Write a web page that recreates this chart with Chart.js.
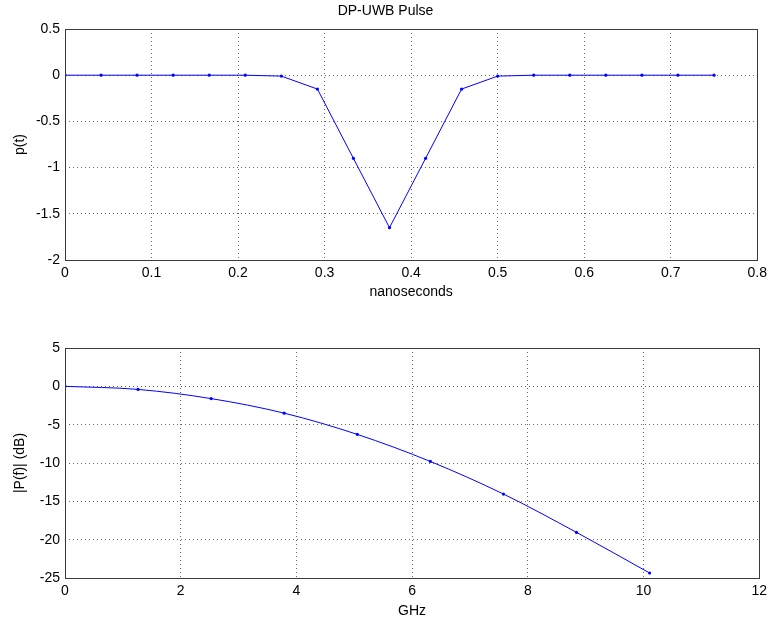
<!DOCTYPE html>
<html>
<head>
<meta charset="utf-8">
<script src="https://cdn.jsdelivr.net/npm/chart.js@4/dist/chart.umd.min.js"></script>
<style>
  html, body { margin: 0; padding: 0; background: #fff; }
  #wrap { position: relative; width: 772px; height: 623px; }
  .box { position: absolute; left: 0; width: 772px; }
</style>
</head>
<body>
<div id="wrap">
  <div class="box" style="top:0;height:320px"><canvas id="pulseChart"></canvas></div>
  <div class="box" style="top:320px;height:303px"><canvas id="specChart"></canvas></div>
</div>
<script>
// pulse samples (ns)
const pulseTime = [0, 0.0417, 0.0833, 0.125, 0.1667, 0.2083, 0.25, 0.2917, 0.3333, 0.375,
                   0.4167, 0.4583, 0.5, 0.5417, 0.5833, 0.625, 0.6667, 0.7083, 0.75];
const pulseVal  = [0, 0, 0, 0, 0, 0, -0.01, -0.15, -0.9, -1.65,
                   -0.9, -0.15, -0.01, 0, 0, 0, 0, 0, 0];

// spectrum samples (GHz)
const specFreq = [0, 1.263, 2.526, 3.789, 5.053, 6.316, 7.579, 8.842, 10.105];
const specDb   = [0, -0.4, -1.6, -3.5, -6.27, -9.8, -14.05, -19.05, -24.35];

const FONT = 'Arial, "Liberation Sans", sans-serif';
Chart.defaults.font.family = FONT;
Chart.defaults.font.size = 14;
Chart.defaults.color = '#000';

// box around the plot area, like matlab axes
const frame = {
  id: 'frame',
  afterDraw(chart) {
    const a = chart.chartArea, c = chart.ctx;
    c.save();
    c.strokeStyle = '#3a3a3a';
    c.lineWidth = 1;
    c.strokeRect(Math.round(a.left) + 0.5, Math.round(a.top) + 0.5,
                 Math.round(a.right - a.left), Math.round(a.bottom - a.top));
    c.restore();
  }
};

function axis(min, max, step, label, fit) {
  return {
    type: 'linear', min, max,
    ticks: { stepSize: step, padding: 5, color: '#000',
             callback: v => String(Math.round(v * 10) / 10) },
    grid: { color: '#666', drawTicks: false, lineWidth: 1 },
    border: { display: false, dash: [1, 3] },
    title: { display: true, text: label, color: '#000', font: { size: 14 }, padding: { top: 2, bottom: 0 } },
    afterFit: fit
  };
}

function series(xs, ys) {
  return {
    data: xs.map((x, i) => ({ x, y: ys[i] })),
    borderColor: '#0000ff',
    backgroundColor: '#0000ff',
    borderWidth: 1,
    pointRadius: 1.6,
    pointHoverRadius: 1.6,
    pointBorderWidth: 0,
    tension: 0
  };
}

new Chart(document.getElementById('pulseChart'), {
  type: 'line',
  data: { datasets: [series(pulseTime, pulseVal)] },
  options: {
    responsive: true, maintainAspectRatio: false, animation: false,
    layout: { padding: { left: 10, right: 11, top: 0, bottom: 19 } },
    plugins: {
      legend: { display: false }, tooltip: { enabled: false },
      title: { display: true, text: 'DP-UWB Pulse', color: '#000', font: { size: 14, weight: 'normal' },
               padding: { top: 3, bottom: 9.2 } }
    },
    scales: {
      x: axis(0, 0.8, 0.1, 'nanoseconds', s => { s.height = 41; }),
      y: axis(-2, 0.5, 0.5, 'p(t)', s => { s.width = 55; })
    }
  },
  plugins: [frame]
});

const specData = series(specFreq, specDb);
specData.cubicInterpolationMode = 'monotone';

new Chart(document.getElementById('specChart'), {
  type: 'line',
  data: { datasets: [specData] },
  options: {
    responsive: true, maintainAspectRatio: false, animation: false,
    layout: { padding: { left: 10, right: 11, top: 28, bottom: 3 } },
    plugins: { legend: { display: false }, tooltip: { enabled: false } },
    scales: {
      x: axis(0, 12, 2, 'GHz', s => { s.height = 42; }),
      y: axis(-25, 5, 5, '|P(f)| (dB)', s => { s.width = 55; })
    }
  },
  plugins: [frame]
});
</script>
</body>
</html>
